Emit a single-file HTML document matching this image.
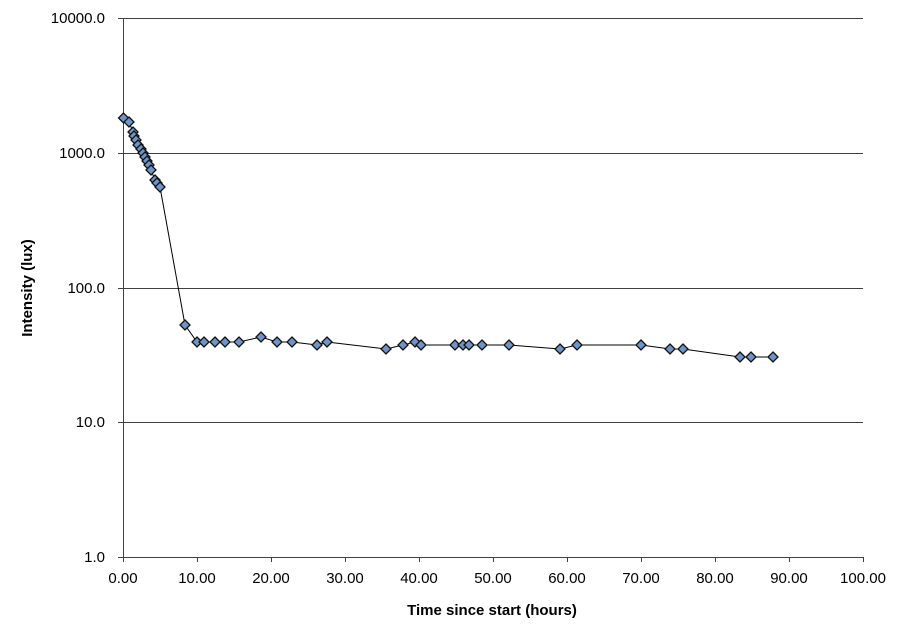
<!DOCTYPE html>
<html><head><meta charset="utf-8"><style>
html,body{margin:0;padding:0;background:#fff;}
svg{display:block;font-family:"Liberation Sans",Arial,sans-serif;}
</style></head><body>
<svg width="902" height="638" viewBox="0 0 902 638" xmlns="http://www.w3.org/2000/svg">
<rect width="902" height="638" fill="#fff"/>
<g stroke="#404040" stroke-width="1">
<line x1="123" y1="18.5" x2="863" y2="18.5"/>
<line x1="123" y1="153.5" x2="863" y2="153.5"/>
<line x1="123" y1="288.5" x2="863" y2="288.5"/>
<line x1="123" y1="422.5" x2="863" y2="422.5"/>
<line x1="123.5" y1="18" x2="123.5" y2="557"/>
<line x1="118" y1="557.5" x2="863" y2="557.5"/>
<line x1="118" y1="18.5" x2="123" y2="18.5"/>
<line x1="118" y1="153.5" x2="123" y2="153.5"/>
<line x1="118" y1="288.5" x2="123" y2="288.5"/>
<line x1="118" y1="422.5" x2="123" y2="422.5"/>
<line x1="123.5" y1="557" x2="123.5" y2="562"/>
<line x1="197.5" y1="557" x2="197.5" y2="562"/>
<line x1="271.5" y1="557" x2="271.5" y2="562"/>
<line x1="345.5" y1="557" x2="345.5" y2="562"/>
<line x1="419.5" y1="557" x2="419.5" y2="562"/>
<line x1="493.5" y1="557" x2="493.5" y2="562"/>
<line x1="567.5" y1="557" x2="567.5" y2="562"/>
<line x1="641.5" y1="557" x2="641.5" y2="562"/>
<line x1="715.5" y1="557" x2="715.5" y2="562"/>
<line x1="789.5" y1="557" x2="789.5" y2="562"/>
<line x1="863.5" y1="557" x2="863.5" y2="562"/>
</g>
<g font-size="15" fill="#000" text-anchor="end">
<text x="105" y="23">10000.0</text>
<text x="105" y="158">1000.0</text>
<text x="105" y="293">100.0</text>
<text x="105" y="427">10.0</text>
<text x="105" y="562">1.0</text>
</g>
<g font-size="15" fill="#000" text-anchor="middle">
<text x="123" y="583">0.00</text>
<text x="197" y="583">10.00</text>
<text x="271" y="583">20.00</text>
<text x="345" y="583">30.00</text>
<text x="419" y="583">40.00</text>
<text x="493" y="583">50.00</text>
<text x="567" y="583">60.00</text>
<text x="641" y="583">70.00</text>
<text x="715" y="583">80.00</text>
<text x="789" y="583">90.00</text>
<text x="863" y="583">100.00</text>
</g>
<text x="492" y="615" font-size="15" font-weight="bold" text-anchor="middle">Time since start (hours)</text>
<text transform="translate(32,288) rotate(-90)" font-size="15" font-weight="bold" text-anchor="middle">Intensity (lux)</text>
<polyline fill="none" stroke="#000" stroke-width="1" points="123.5,118 129,122 133,132 134,136 136,140 138,145 141,149 143,153 145,157 147,161 149,165 151,170 155,180 157,183 160,187 185,325 197,342 204,342 215,342 225,342 239,342 261,337 277,342 292,342 317,345 327,342 386,349 403,345 415,342 421,345 455,345 463,345 469,345 482,345 509,345 560,349 577,345 641,345 670,349 683,349 740,357 751,357 773,357"/>
<g fill="#6f94c8" stroke="#111" stroke-width="1.3">
<path d="M123.5,113l5,5l-5,5l-5,-5z"/><path d="M129,117l5,5l-5,5l-5,-5z"/><path d="M133,127l5,5l-5,5l-5,-5z"/><path d="M134,131l5,5l-5,5l-5,-5z"/><path d="M136,135l5,5l-5,5l-5,-5z"/><path d="M138,140l5,5l-5,5l-5,-5z"/><path d="M141,144l5,5l-5,5l-5,-5z"/><path d="M143,148l5,5l-5,5l-5,-5z"/><path d="M145,152l5,5l-5,5l-5,-5z"/><path d="M147,156l5,5l-5,5l-5,-5z"/><path d="M149,160l5,5l-5,5l-5,-5z"/><path d="M151,165l5,5l-5,5l-5,-5z"/><path d="M155,175l5,5l-5,5l-5,-5z"/><path d="M157,178l5,5l-5,5l-5,-5z"/><path d="M160,182l5,5l-5,5l-5,-5z"/><path d="M185,320l5,5l-5,5l-5,-5z"/><path d="M197,337l5,5l-5,5l-5,-5z"/><path d="M204,337l5,5l-5,5l-5,-5z"/><path d="M215,337l5,5l-5,5l-5,-5z"/><path d="M225,337l5,5l-5,5l-5,-5z"/><path d="M239,337l5,5l-5,5l-5,-5z"/><path d="M261,332l5,5l-5,5l-5,-5z"/><path d="M277,337l5,5l-5,5l-5,-5z"/><path d="M292,337l5,5l-5,5l-5,-5z"/><path d="M317,340l5,5l-5,5l-5,-5z"/><path d="M327,337l5,5l-5,5l-5,-5z"/><path d="M386,344l5,5l-5,5l-5,-5z"/><path d="M403,340l5,5l-5,5l-5,-5z"/><path d="M415,337l5,5l-5,5l-5,-5z"/><path d="M421,340l5,5l-5,5l-5,-5z"/><path d="M455,340l5,5l-5,5l-5,-5z"/><path d="M463,340l5,5l-5,5l-5,-5z"/><path d="M469,340l5,5l-5,5l-5,-5z"/><path d="M482,340l5,5l-5,5l-5,-5z"/><path d="M509,340l5,5l-5,5l-5,-5z"/><path d="M560,344l5,5l-5,5l-5,-5z"/><path d="M577,340l5,5l-5,5l-5,-5z"/><path d="M641,340l5,5l-5,5l-5,-5z"/><path d="M670,344l5,5l-5,5l-5,-5z"/><path d="M683,344l5,5l-5,5l-5,-5z"/><path d="M740,352l5,5l-5,5l-5,-5z"/><path d="M751,352l5,5l-5,5l-5,-5z"/><path d="M773,352l5,5l-5,5l-5,-5z"/>
</g>
</svg>
</body></html>
